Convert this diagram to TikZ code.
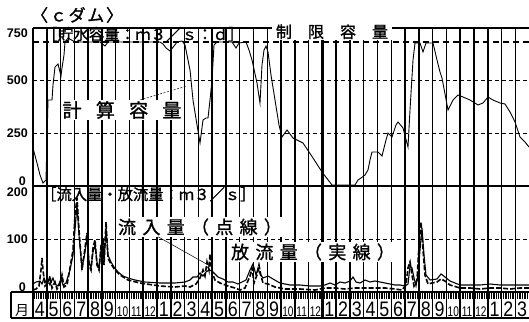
\documentclass[tikz,border=0pt]{standalone}
\usepackage{fontspec}
\setmainfont{Liberation Sans}
\newfontfamily\jp[AutoFakeBold=1.2]{Noto Sans CJK JP}
\usetikzlibrary{positioning}

\tikzset{
  mline/.style={black,line width=1.5pt},
  yline/.style={black,line width=2.4pt},
  frame/.style={black,line width=2pt},
  refline/.style={black,line width=0.7pt,dash pattern=on 4pt off 3pt},
  limit/.style={black,line width=2pt,dash pattern=on 6pt off 4pt},
  store/.style={black,line width=0.9pt},
  outflow/.style={black,line width=1.1pt},
  inflow/.style={black,line width=1.6pt,dash pattern=on 5pt off 2pt},
  leader/.style={black,line width=0.5pt},
  tick/.style={black,line width=0.5pt},
  axlab/.style={anchor=east,inner sep=0pt,font=\fontsize{12.5}{12.5}\selectfont\bfseries},
  jlab/.style={inner sep=1pt,font=\jp\bfseries\fontsize{18}{18}\selectfont},
}

\begin{document}
\begin{tikzpicture}[x=1pt,y=-1pt]
      \useasboundingbox (0,0) rectangle (529,321);
      % month grid and day ticks
      \foreach \k in {1,...,35}
        \draw[mline] ({33+\k*13.78},28) -- ({33+\k*13.78},318);
      \foreach \k in {9,21,33}
        \draw[yline] ({33+\k*13.78},28) -- ({33+\k*13.78},318);
      \foreach \i in {0,...,287}
        \draw[tick] ({33+\i*13.78/8},293) -- ++(0,6);
      % reference lines
      \draw[refline] (33,80) -- (529,80);
      \draw[refline] (33,133) -- (529,133);
      \draw[refline] (33,239) -- (529,239);
      \draw[limit] (33,42) -- (529,42);
      % storage
      \draw[store] plot coordinates {(33,148) (37,163) (40,175) (43,183) (46,180) (47,140) (48,100) (52,100) (53,85) (55,67) (58,64) (61,76) (62,68) (64,55) (65,42) (68,38) (75,42) (100,42) (105,46) (108,42) (160,42) (163,44) (166,48) (170,51) (174,46) (177,42) (182,41) (185,45) (188,60) (190,70) (193,100) (197,125) (200,143) (203,120) (206,118) (208,118) (210,100) (212,80) (214,45) (217,42) (232,42) (236,48) (239,43) (246,42) (249,50) (252,60) (257,83) (260,103) (262,65) (264,50) (266,46) (268,52) (271,75) (275,100) (279,125) (282,137) (287,130) (293,138) (303,143) (313,158) (322,172) (332,185) (355,185) (358,180) (361,178) (365,175) (368,170) (370,160) (372,152) (378,152) (382,156) (386,140) (388,133) (392,137) (396,125) (398,122) (403,128) (408,147) (410,110) (413,60) (415,43) (420,43) (423,52) (426,43) (433,43) (437,60) (440,72) (442,78) (448,110) (453,100) (458,95) (463,97) (470,100) (478,105) (483,103) (488,97) (493,100) (500,103) (505,104) (510,112) (515,122) (520,137) (525,142) (529,147)};
      % inflow / outflow
      \draw[inflow] plot coordinates {(33,290) (36,289) (39,286) (41,270) (42,258) (43,270) (45,286) (48,283) (50,276) (52,288) (55,282) (57,289) (60,284) (62,275) (64,287) (67,285) (70,268) (73,250) (75,215) (77,198) (79,230) (82,270) (85,248) (87,233) (89,265) (91,270) (93,248) (95,240) (97,265) (99,270) (101,246) (103,238) (104,265) (106,222) (108,258) (111,264) (115,270) (120,275) (128,280) (140,283) (160,286) (175,287) (185,286) (190,287) (196,284) (200,278) (203,270) (205,276) (207,262) (209,270) (210,254) (212,272) (215,280) (220,283) (228,286) (235,288) (240,290) (245,288) (250,276) (252,268) (254,283) (257,275) (259,265) (261,276) (263,283) (268,284) (275,287) (285,289) (300,289) (315,290) (325,288) (335,288) (345,289) (355,288) (365,288) (375,288) (385,288) (395,289) (402,290) (406,285) (408,268) (410,262) (412,275) (414,286) (417,280) (419,245) (421,222) (423,250) (425,275) (428,284) (432,283) (437,282) (441,279) (445,281) (450,285) (460,288) (470,288) (480,289) (490,288) (500,288) (510,289) (520,288) (529,288)};
      \draw[outflow] plot coordinates {(33,284) (36,282) (40,281) (42,284) (44,278) (46,283) (48,280) (50,285) (53,278) (55,284) (58,286) (61,279) (63,285) (66,283) (70,270) (73,255) (75,230) (77,205) (79,235) (82,268) (85,252) (87,238) (89,262) (91,268) (93,252) (95,245) (97,262) (99,268) (101,250) (103,242) (104,262) (106,228) (108,255) (111,262) (114,267) (118,272) (123,276) (128,278) (135,280) (145,282) (160,283) (175,283) (185,282) (190,280) (193,277) (197,277) (200,273) (203,276) (206,272) (209,270) (212,271) (215,274) (218,277) (223,279) (228,282) (233,282) (238,284) (242,282) (246,280) (250,270) (253,264) (256,275) (258,268) (260,274) (263,278) (268,276) (273,279) (280,283) (290,285) (300,285) (310,286) (320,286) (325,285) (330,283) (335,285) (340,282) (345,283) (350,281) (353,277) (356,282) (360,283) (365,280) (370,282) (375,281) (380,282) (390,284) (395,285) (400,285) (405,286) (408,284) (410,266) (412,268) (414,278) (416,286) (418,275) (420,250) (422,228) (424,255) (426,275) (430,280) (437,279) (441,274) (445,277) (450,281) (455,283) (460,285) (470,285) (480,285) (490,284) (500,285) (510,285) (520,285) (529,285)};
      % frame
      \draw[frame] (33,28) -- (529,28);
      \draw[frame] (33,186) -- (529,186);
      \draw[frame] (11,292) -- (529,292);
      \draw[frame] (11,318) -- (529,318);
      \draw[frame] (11,292) -- (11,318);
      \draw[frame] (33,28) -- (33,318);
      % labels
      \node[anchor=west,inner sep=0pt,font=\jp\bfseries\fontsize{17}{17}\selectfont] (dam) at (31,15) {〈\hspace{.1em}ｃ\hspace{.1em}ダ\hspace{.1em}ム\hspace{.1em}〉};
      \node[fill=white,inner xsep=4pt,inner ysep=1pt,text height=13pt,text depth=1pt,anchor=south,font=\jp\bfseries\fontsize{16}{16}\selectfont] (lim) at (332,40) {制\hspace{1em}限\hspace{1em}容\hspace{1em}量};
      \node[anchor=base west,inner sep=0pt,font=\jp\bfseries\fontsize{15.5}{15.5}\selectfont] (vunit) at (42,40) {［貯水容量：ｍ３／ｓ：ｄ］};
      \node[anchor=base west,inner sep=0pt,font=\jp\bfseries\fontsize{15.3}{15.3}\selectfont] (qunit) at (41,200) {［流入量・放流量：ｍ３／ｓ］};
      \coordinate (calcpt) at (187,86);
      \draw[leader,dash pattern=on 2pt off 1.5pt] (140,100) -- (calcpt);
      \node[jlab,fill=white,font=\jp\bfseries\fontsize{19}{19}\selectfont] (calc) at (122,110) {計\hspace{.75em}算\hspace{.75em}容\hspace{.75em}量};
      \coordinate (inpt) at (210,266);
      \node[jlab,fill=white] (inlab) at (200,227) {流\hspace{.35em}入\hspace{.35em}量\hspace{.35em}（\hspace{.35em}点\hspace{.35em}線\hspace{.35em}）};
      \draw[leader] ([xshift=-42pt]inlab.south) -- (inpt);
      \node[jlab,fill=white] (outlab) at (313,252) {放\hspace{.35em}流\hspace{.35em}量\hspace{.35em}（\hspace{.35em}実\hspace{.35em}線\hspace{.35em}）};
      % axis values
      \node[axlab] (v750) at (28,33) {750};
      \node[axlab] (v500) at (28,80) {500};
      \node[axlab] (v250) at (28,133) {250};
      \node[axlab] (v0) at (26,181) {0};
      \node[axlab] (q200) at (28,192) {200};
      \node[axlab] (q100) at (28,239) {100};
      \node[axlab] (q0) at (26,287) {0};
      % months
      \node[anchor=base,inner sep=0pt,font=\jp\fontsize{14}{14}\selectfont] (mon) at (22,315) {月};
      \foreach \k in {0,...,35}{
        \pgfmathtruncatemacro{\m}{mod(\k+3,12)+1}
        \pgfmathsetmacro{\xc}{33+(\k+0.5)*13.78}
        \ifnum\m>9
          \node[anchor=base,inner sep=0pt,font=\fontsize{14}{14}\selectfont] (m\k) at (\xc,316.5) {\scalebox{0.72}[1]{\m}};
        \else
          \node[anchor=base,inner sep=0pt,font=\fontsize{21}{21}\selectfont] (m\k) at (\xc,316.5) {\scalebox{0.85}[1]{\m}};
        \fi
      }
\end{tikzpicture}
\end{document}
